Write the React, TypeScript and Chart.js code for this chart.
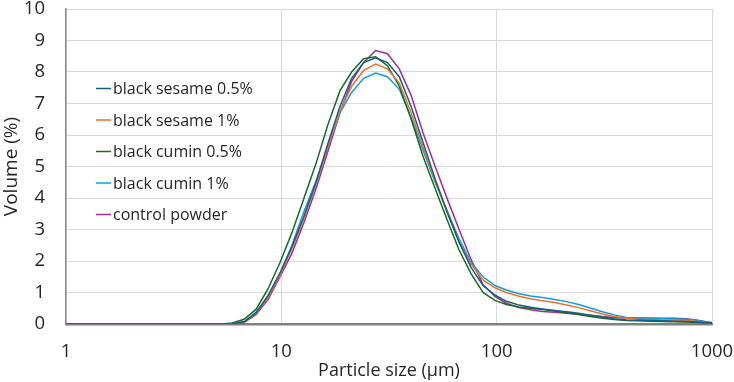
import { useEffect, useRef } from "react";
import { Chart, registerables } from "chart.js";

Chart.register(...registerables);

// Particle size classes (µm)
const sizes = [
  0.991, 1.13, 1.28, 1.45, 1.65, 1.88, 2.13, 2.42, 2.75, 3.12, 3.55, 4.03, 4.58,
  5.21, 5.92, 6.72, 7.64, 8.68, 9.86, 11.2, 12.7, 14.5, 16.4, 18.7, 21.2, 24.1,
  27.4, 31.1, 35.3, 40.1, 45.6, 51.8, 58.9, 66.9, 76, 86.4, 98.1, 111, 127, 144,
  163, 186, 211, 240, 272, 310, 352, 400, 454, 516, 586, 666, 756, 859, 976, 1110,
];

// Volume density (%) per size class
const blackSesame05 = [
  0, 0, 0, 0, 0, 0, 0, 0, 0, 0, 0, 0, 0,
  0, 0.01, 0.07, 0.35, 0.9, 1.62, 2.45, 3.4, 4.5, 5.7, 6.9, 7.8, 8.3, 8.45, 8.3,
  7.85, 6.9, 5.75, 4.6, 3.55, 2.6, 1.8, 1.22, 0.92, 0.72, 0.6, 0.53, 0.48, 0.43,
  0.39, 0.34, 0.28, 0.22, 0.17, 0.13, 0.12, 0.11, 0.1, 0.09, 0.08, 0.06, 0.04, 0.02,
];
const blackSesame1 = [
  0, 0, 0, 0, 0, 0, 0, 0, 0, 0, 0, 0, 0,
  0, 0.01, 0.07, 0.33, 0.85, 1.55, 2.4, 3.3, 4.45, 5.6, 6.75, 7.55, 8.05, 8.25, 8.1,
  7.65, 6.7, 5.6, 4.55, 3.55, 2.6, 1.9, 1.4, 1.15, 1.0, 0.88, 0.8, 0.74, 0.68,
  0.6, 0.52, 0.42, 0.32, 0.24, 0.18, 0.15, 0.14, 0.13, 0.12, 0.11, 0.08, 0.04, 0.02,
];
const blackCumin05 = [
  0, 0, 0, 0, 0, 0, 0, 0, 0, 0, 0, 0, 0,
  0, 0.03, 0.15, 0.47, 1.12, 1.95, 2.9, 3.97, 5.1, 6.3, 7.4, 8.0, 8.42, 8.48, 8.2,
  7.55, 6.5, 5.3, 4.3, 3.3, 2.35, 1.6, 1.0, 0.75, 0.62, 0.54, 0.5, 0.46, 0.41,
  0.36, 0.3, 0.24, 0.18, 0.14, 0.11, 0.1, 0.09, 0.08, 0.07, 0.06, 0.05, 0.03, 0.01,
];
const blackCumin1 = [
  0, 0, 0, 0, 0, 0, 0, 0, 0, 0, 0, 0, 0,
  0, 0.01, 0.08, 0.38, 0.9, 1.6, 2.5, 3.55, 4.55, 5.6, 6.7, 7.35, 7.8, 7.97, 7.85,
  7.45, 6.55, 5.5, 4.5, 3.6, 2.7, 1.95, 1.5, 1.22, 1.08, 0.96, 0.89, 0.84, 0.78,
  0.71, 0.62, 0.51, 0.39, 0.29, 0.21, 0.18, 0.17, 0.17, 0.16, 0.15, 0.11, 0.05, 0.02,
];
const controlPowder = [
  0, 0, 0, 0, 0, 0, 0, 0, 0, 0, 0, 0, 0,
  0, 0, 0.05, 0.3, 0.78, 1.5, 2.25, 3.2, 4.3, 5.45, 6.7, 7.7, 8.3, 8.68, 8.58,
  8.1, 7.25, 6.05, 5.0, 3.98, 3.0, 2.05, 1.25, 0.88, 0.66, 0.52, 0.45, 0.4, 0.37,
  0.34, 0.31, 0.28, 0.24, 0.21, 0.19, 0.19, 0.19, 0.18, 0.18, 0.17, 0.12, 0.05, 0.02,
];

const seriesNames = [
  "black sesame 0.5%",
  "black sesame 1%",
  "black cumin 0.5%",
  "black cumin 1%",
  "control powder",
];
const seriesValues = [blackSesame05, blackSesame1, blackCumin05, blackCumin1, controlPowder];
const seriesColors = ["#156082", "#E97132", "#196B24", "#0F9ED5", "#A02B93"];

const xTickValues = [1, 10, 100, 1000];
const yMin = 0;
const yMax = 10;

const FONT = "'Open Sans', 'Liberation Sans', sans-serif";
const TEXT_COLOR = "#262626";

// Legend drawn inside the plot area, one entry per row
const insideLegend = {
  id: "insideLegend",
  afterDatasetsDraw(chart: any) {
    const { ctx, chartArea } = chart;
    ctx.save();
    ctx.font = `16px ${FONT}`;
    ctx.textBaseline = "middle";
    ctx.textAlign = "left";
    chart.data.datasets.forEach((ds: any, i: number) => {
      const y = chartArea.top + 79.5 + i * 31.5;
      const x0 = chartArea.left + 30;
      ctx.strokeStyle = ds.borderColor;
      ctx.lineWidth = 1.5;
      ctx.beginPath();
      ctx.moveTo(x0, y);
      ctx.lineTo(x0 + 15, y);
      ctx.stroke();
      ctx.fillStyle = TEXT_COLOR;
      ctx.fillText(ds.label, x0 + 17, y + 1);
    });
    ctx.restore();
  },
};

export default function App() {
  const canvasRef = useRef<HTMLCanvasElement | null>(null);

  useEffect(() => {
    const canvas = canvasRef.current;
    if (!canvas) return;
    const chart = new Chart(canvas, {
      type: "line",
      data: {
        datasets: seriesNames.map((name, i) => ({
          label: name,
          data: sizes.map((s, j) => ({ x: s, y: seriesValues[i][j] })),
          borderColor: seriesColors[i],
          backgroundColor: seriesColors[i],
          borderWidth: 1.5,
          pointRadius: 0,
          tension: 0,
          fill: false,
        })),
      },
      options: {
        animation: false,
        responsive: false,
        devicePixelRatio: 1,
        layout: { padding: { top: 9, right: 22, left: 0, bottom: 0 } },
        plugins: {
          legend: { display: false },
          tooltip: { enabled: false },
        },
        scales: {
          x: {
            type: "logarithmic",
            min: 1,
            max: 1000,
            afterBuildTicks: (scale: any) => {
              scale.ticks = xTickValues.map((v) => ({ value: v }));
            },
            afterFit: (scale: any) => {
              scale.height = 58;
              scale.paddingLeft = 0;
              scale.paddingRight = 0;
            },
            ticks: {
              autoSkip: false,
              maxRotation: 0,
              padding: 17,
              color: TEXT_COLOR,
              font: { family: FONT, size: 18.5 },
              callback: (v: any) => String(v),
            },
            grid: { color: "#d9d9d9", lineWidth: 1, drawTicks: false },
            border: { color: "#808080", width: 2.5 },
            title: {
              display: true,
              text: "Particle size (μm)",
              color: TEXT_COLOR,
              font: { family: FONT, size: 18 },
              padding: { top: 0, bottom: 0 },
            },
          },
          y: {
            type: "linear",
            min: yMin,
            max: yMax,
            afterFit: (scale: any) => {
              scale.width = 66;
              scale.paddingTop = 0;
              scale.paddingBottom = 0;
            },
            ticks: {
              stepSize: 1,
              padding: 21,
              color: TEXT_COLOR,
              font: { family: FONT, size: 18.5 },
            },
            grid: { color: "#d9d9d9", lineWidth: 1, drawTicks: false },
            border: { color: "#8c8c8c", width: 1.5 },
            title: {
              display: true,
              text: "Volume (%)",
              color: TEXT_COLOR,
              font: { family: FONT, size: 19 },
              padding: { top: 0, bottom: 0 },
            },
          },
        },
      },
      plugins: [insideLegend],
    });
    return () => chart.destroy();
  }, []);

  return (
    <div style={{ position: "fixed", left: 0, top: 0, width: 734, height: 382, background: "#fff" }}>
      <canvas ref={canvasRef} width={734} height={382} style={{ display: "block" }} />
    </div>
  );
}
